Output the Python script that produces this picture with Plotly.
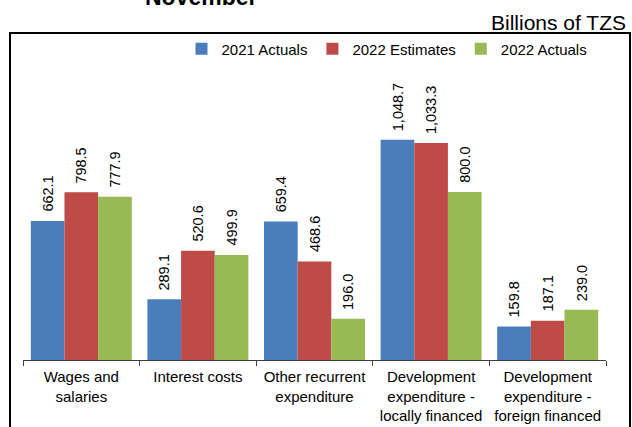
import plotly.graph_objects as go

categories = ["Wages and<br>salaries", "Interest costs", "Other recurrent<br>expenditure",
              "Development<br>expenditure -<br>locally financed", "Development<br>expenditure -<br>foreign financed"]
series_names = ["2021 Actuals", "2022 Estimates", "2022 Actuals"]
actuals_2021 = [662.1, 289.1, 659.4, 1048.7, 159.8]
estimates_2022 = [798.5, 520.6, 468.6, 1033.3, 187.1]
actuals_2022 = [777.9, 499.9, 196.0, 800.0, 239.0]
colors = ["#4a7ebb", "#be4b48", "#98b954"]

FONT = "Liberation Sans, Arial, sans-serif"
W, H = 632, 427
L, R, T, B = 23, 26, 108, 67
pw, ph = W - L - R, H - T - B
def px(x): return (x - L) / pw
def py(y): return (H - B - y) / ph

bargap = 0.134
fig = go.Figure()
all_series = [actuals_2021, estimates_2022, actuals_2022]
for name, vals, col in zip(series_names, all_series, colors):
    fig.add_trace(go.Bar(x=categories, y=vals, name=name, marker=dict(color=col, line=dict(width=0))))

n = len(all_series)
bw = (1 - bargap) / n
annotations = []
for si, vals in enumerate(all_series):
    off = (si - (n - 1) / 2) * bw
    for ci, v in enumerate(vals):
        annotations.append(dict(x=ci + off, y=v, xref="x", yref="y", text=f"{v:,.1f}",
                                textangle=-90, showarrow=False, yanchor="bottom", xanchor="center",
                                yshift=7, font=dict(family=FONT, size=14.5, color="black")))

annotations.append(dict(x=px(628), y=py(22), xref="paper", yref="paper", text="Billions of TZS",
                        showarrow=False, xanchor="right", yanchor="middle",
                        font=dict(family=FONT, size=21, color="black")))
annotations.append(dict(x=px(201), y=py(12), xref="paper", yref="paper", text="<b>November</b>",
                        showarrow=False, xanchor="center", yanchor="bottom",
                        font=dict(family=FONT, size=23, color="black")))

fig.update_layout(
    width=W, height=H, margin=dict(l=L, r=R, t=T, b=B, autoexpand=False),
    paper_bgcolor="white", plot_bgcolor="white",
    barmode="group", bargap=bargap, bargroupgap=0,
    font=dict(family=FONT, size=15, color="black"),
    legend=dict(orientation="h", x=px(387), y=py(49), xanchor="center", yanchor="middle",
                font=dict(family=FONT, size=15), itemwidth=30, bgcolor="rgba(0,0,0,0)"),
    annotations=annotations,
    shapes=[dict(type="rect", xref="paper", yref="paper", x0=px(10), x1=px(630), y0=py(460), y1=py(33),
                 line=dict(color="black", width=2), fillcolor="rgba(0,0,0,0)", layer="above")],
    showlegend=True,
)
fig.update_xaxes(type="category", tickson="boundaries", ticks="outside", ticklen=5, tickcolor="#404040",
                 showline=True, linecolor="#404040", linewidth=1, showgrid=False, automargin=False,
                 ticklabelstandoff=3,
                 tickfont=dict(family=FONT, size=15, color="black"), range=[-0.5, 4.5])
fig.update_yaxes(range=[0, 1200], visible=False, showgrid=False, automargin=False)

fig.write_html("out.html")
